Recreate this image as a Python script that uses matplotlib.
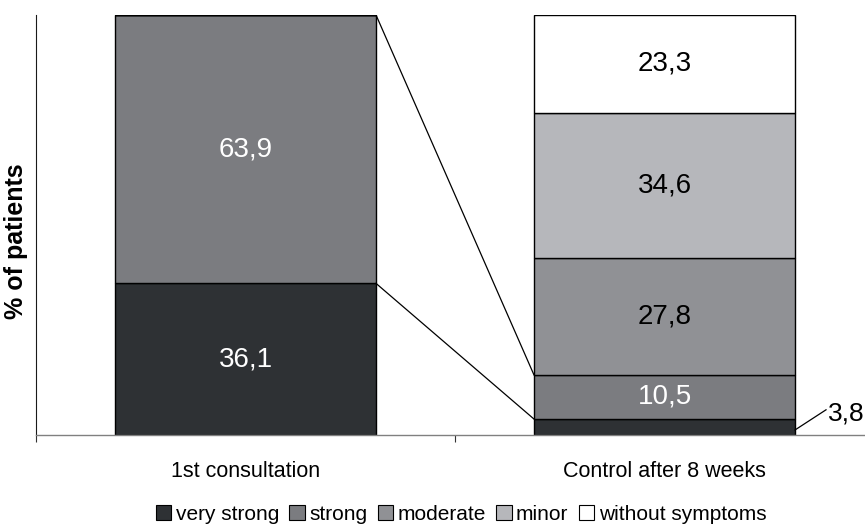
import matplotlib
matplotlib.use("Agg")
import matplotlib.pyplot as plt
from matplotlib.patches import Patch

plt.rcParams['font.family'] = ['Liberation Sans', 'DejaVu Sans']

categories = ["1st consultation", "Control after 8 weeks"]
series_names = ["very strong", "strong", "moderate", "minor", "without symptoms"]
values = {
    "very strong": [36.1, 3.8],
    "strong": [63.9, 10.5],
    "moderate": [0.0, 27.8],
    "minor": [0.0, 34.6],
    "without symptoms": [0.0, 23.3],
}
colors = ["#2e3134", "#7b7c80", "#909195", "#b6b7bb", "#ffffff"]
label_colors = ["white", "white", "black", "black", "black"]

fig = plt.figure(figsize=(8.65, 5.28), dpi=100)
ax = fig.add_axes([36/865, 93/528, 838/865, 420/528])

w = 0.623
x = [0, 1]
bottoms = [0.0, 0.0]
tops = {}
for name, col, lc in zip(series_names, colors, label_colors):
    v = values[name]
    ax.bar(x, v, w, bottom=bottoms, color=col, edgecolor="black", linewidth=1.0, zorder=2)
    for i in range(2):
        if v[i] > 0 and not (name == "very strong" and i == 1):
            ax.text(x[i], bottoms[i] + v[i] / 2, f"{v[i]:.1f}".replace(".", ","),
                    ha="center", va="center", fontsize=20, color=lc, zorder=3)
    bottoms = [bottoms[i] + v[i] for i in range(2)]
    tops[name] = list(bottoms)

# connector lines between bars
ax.plot([0 + w/2, 1 - w/2], [tops["strong"][0], tops["strong"][1]], color="black", lw=0.9, zorder=4)
ax.plot([0 + w/2, 1 - w/2], [tops["very strong"][0], tops["very strong"][1]], color="black", lw=0.9, zorder=4)

# small label for 3.8
vs = values["very strong"][1]
ax.plot([1 + w/2, 1 + w/2 + 0.074], [vs / 2 - 0.7, vs / 2 + 4.1], color="black", lw=0.9, zorder=4)
ax.text(1 + w/2 + 0.079, vs / 2 + 3.2, f"{vs:.1f}".replace(".", ","), ha="left", va="center",
        fontsize=19, color="black")

ax.set_xlim(-0.5, 1.5)
ax.set_ylim(0, 100)
ax.spines["top"].set_visible(False)
ax.spines["right"].set_visible(False)
ax.spines["left"].set_color("#1a1a1a")
ax.spines["bottom"].set_color("#808080")
ax.spines["bottom"].set_linewidth(1.0)
ax.set_yticks([])

ax.set_xticks([-0.5, 0.5, 1.5])
ax.set_xticklabels([])
ax.tick_params(axis="x", which="major", direction="out", length=5, color="#333333")
ax.set_xticks(x, minor=True)
ax.set_xticklabels(categories, minor=True, fontsize=15.5)
ax.tick_params(axis="x", which="minor", length=0, pad=19)

fig.text(16.5/865, 1 - 241/528, "% of patients", rotation=90, ha="center", va="center",
         fontsize=18, fontweight="bold")

handles = [Patch(facecolor=c, edgecolor="black", linewidth=0.8) for c in colors]
fig.legend(handles, series_names, loc="center", bbox_to_anchor=(461/865, 1 - 514/528),
           ncol=5, frameon=False, fontsize=15, handlelength=0.75, handleheight=0.75,
           handletextpad=0.2, columnspacing=0.5)

fig.savefig("out.png", dpi=100)
